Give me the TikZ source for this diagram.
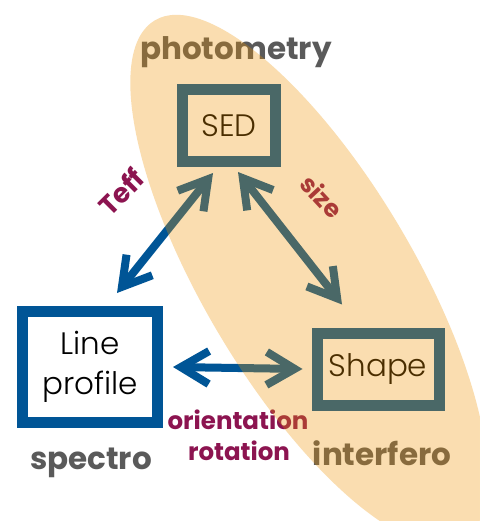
\documentclass[tikz,border=0pt]{standalone}
\usepackage{fontspec}
\setmainfont{Poppins}
\newfontfamily\lightfont{Poppins Light}
\usetikzlibrary{arrows.meta}
\definecolor{myblue}{RGB}{0,85,150}
\definecolor{mygrey}{RGB}{90,90,90}
\definecolor{mymaroon}{RGB}{140,20,80}
\definecolor{myorange}{RGB}{239,148,0}
\tikzset{
  box/.style={draw=myblue, line width=11pt, fill=white, inner sep=0pt, font=\lightfont\fontsize{31}{40}\selectfont, align=center, text=black},
  arr/.style={draw=myblue, line width=8pt, {Straight Barb[length=28pt,width=33pt]}-{Straight Barb[length=28pt,width=33pt]}},
  lab/.style={text=mygrey, font=\bfseries\fontsize{31}{33}\selectfont, inner sep=0pt},
  rel/.style={text=mymaroon, font=\bfseries\fontsize{24.5}{26}\selectfont, inner sep=0pt},
}
\begin{document}
\begin{tikzpicture}[x=1pt,y=-1pt]
\useasboundingbox (0,0) rectangle (479,521);
\fill[white] (0,0) rectangle (479,521);
% boxes
\node[box, minimum width=93pt, minimum height=72pt] (sed) at (229,125.5) {SED};
\node[box, minimum width=135pt, minimum height=111pt] (lp) at (90,367) {Line\\profile};
\node[box, minimum width=122pt, minimum height=72pt] (shape) at (378,369) {Shape};
% arrows
\draw[arr] ([xshift=27pt,yshift=13pt]lp.north) -- ([xshift=-16pt,yshift=-6pt]sed.south);
\draw[arr] ([xshift=9pt,yshift=-5pt]sed.south) -- ([xshift=-36pt,yshift=23pt]shape.north);
\draw[arr] ([xshift=10pt]lp.east) -- ([xshift=-9pt]shape.west);
% labels
\node[lab] (ph) at (236,52) {photometry};
\node[lab] (sp) at (91,463) {spectro};
\node[lab] (if) at (382,453) {interfero};
\node[rel, rotate=45, font=\bfseries\fontsize{27}{28}\selectfont] (teff) at (121,192) {Teff};
\node[rel, rotate=-47] (size) at (322,196) {size};
\node[rel] (or) at (238,420) {orientation};
\node[rel] (ro) at (239,451) {rotation};
% overlay ellipse
\fill[myorange, opacity=0.31, rotate around={30.7:(309,280)}] (309,280) ellipse [x radius=105, y radius=302];
\end{tikzpicture}
\end{document}
